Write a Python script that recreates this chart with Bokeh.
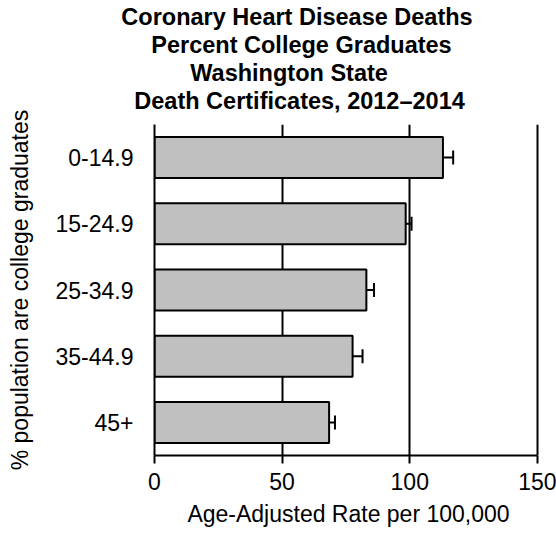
from bokeh.plotting import figure
from bokeh.models import (ColumnDataSource, FactorRange, Range1d, FixedTicker,
                          Whisker, TeeHead, Title)
from bokeh.embed import file_html
from bokeh.resources import INLINE

# ---- data ----
categories = ["0-14.9", "15-24.9", "25-34.9", "35-44.9", "45+"]
rates = [113.0, 98.4, 83.0, 77.6, 68.4]
ci_lower = [109.1, 95.4, 80.5, 74.3, 65.5]
ci_upper = [117.0, 100.7, 86.0, 81.5, 70.7]
x_ticks = [0, 50, 100, 150]
title_lines = ["Coronary Heart Disease Deaths", "Percent College Graduates",
               "Washington State", "Death Certificates, 2012\u20132014"]
x_label = "Age-Adjusted Rate per 100,000"
y_label = "% population are college graduates"

FONT = "Liberation Sans"
TITLE_PX = 23.5
FRAME_LEFT = 154
title_centers = [296.5, 301, 289, 299]   # horizontal centre of each title line (px)

# advance widths of Liberation Sans Bold (= Arial Bold), per 1000 em
BOLD_W = {" ": 278, "C": 722, "o": 611, "r": 389, "n": 611, "a": 556, "y": 556,
          "H": 722, "e": 556, "t": 333, "D": 722, "i": 278, "s": 556, "h": 611,
          "P": 667, "c": 556, "l": 278, "g": 611, "G": 778, "d": 611, "u": 611,
          "W": 944, "S": 667, "f": 333, ",": 278, "0": 556, "1": 556, "2": 556,
          "4": 556, "\u2013": 556}


def text_width(s, px):
    return sum(BOLD_W.get(ch, 556) for ch in s) * px / 1000.0


src = ColumnDataSource(dict(cat=categories, rate=rates, lo=ci_lower, hi=ci_upper))

p = figure(width=556, height=533, output_backend="svg", toolbar_location=None,
           y_range=FactorRange(factors=list(reversed(categories))),
           x_range=Range1d(0, 152),
           min_border_left=FRAME_LEFT, min_border_right=14, min_border_top=124,
           min_border_bottom=78)
p.outline_line_color = None
p.background_fill_color = "white"

p.hbar(y="cat", left=0, right="rate", height=0.62, source=src,
       fill_color="#c0c0c0", line_color="black", line_width=2)

w = Whisker(source=src, base="cat", lower="lo", upper="hi", dimension="width",
            line_color="black", line_width=2,
            upper_head=TeeHead(size=14, line_width=2, line_color="black"),
            lower_head=TeeHead(size=14, line_width=2, line_color="black"))
p.add_layout(w)

# x axis
p.xaxis.ticker = FixedTicker(ticks=x_ticks)
p.xaxis.bounds = (0, 150)
p.xaxis.axis_line_width = 2
p.xaxis.axis_line_color = "black"
p.xaxis.major_tick_line_width = 2
p.xaxis.major_tick_line_color = "black"
p.xaxis.major_tick_out = 8
p.xaxis.major_tick_in = 0
p.xaxis.minor_tick_line_color = None
p.xaxis.major_label_standoff = 9
p.xaxis.major_label_text_font = FONT
p.xaxis.major_label_text_font_size = "23px"
p.xaxis.major_label_text_color = "black"
p.xaxis.axis_label = x_label
p.xaxis.axis_label_standoff = 8
p.xaxis.axis_label_text_font = FONT
p.xaxis.axis_label_text_font_size = "23px"
p.xaxis.axis_label_text_font_style = "normal"
p.xaxis.axis_label_text_color = "black"

# y axis
p.yaxis.axis_line_width = 2
p.yaxis.axis_line_color = "black"
p.yaxis.major_tick_line_color = None
p.yaxis.major_tick_out = 0
p.yaxis.major_tick_in = 0
p.yaxis.minor_tick_line_color = None
p.yaxis.major_label_standoff = 21
p.yaxis.major_label_text_font = FONT
p.yaxis.major_label_text_font_size = "23px"
p.yaxis.major_label_text_color = "black"
p.yaxis.axis_label = y_label
p.yaxis.axis_label_standoff = 19
p.yaxis.axis_label_text_font = FONT
p.yaxis.axis_label_text_font_size = "23px"
p.yaxis.axis_label_text_font_style = "normal"
p.yaxis.axis_label_text_color = "black"

# grid
p.xgrid.ticker = FixedTicker(ticks=x_ticks)
p.xgrid.grid_line_color = "black"
p.xgrid.grid_line_width = 2
p.xgrid.grid_line_alpha = 1.0
p.ygrid.grid_line_color = None

# spacer between title block and frame
p.add_layout(Title(text=" ", text_font_size="1px", standoff=8), "above")
# title lines: added from the bottom line upward (later = farther from frame)
for txt, cx in reversed(list(zip(title_lines, title_centers))):
    off = cx - text_width(txt, TITLE_PX) / 2 - FRAME_LEFT
    p.add_layout(Title(text=txt, align="left", offset=off, standoff=0,
                       text_font=FONT, text_font_style="bold",
                       text_font_size=f"{TITLE_PX}px", text_color="black"),
                 "above")

open("out.html", "w").write(file_html(p, INLINE))
